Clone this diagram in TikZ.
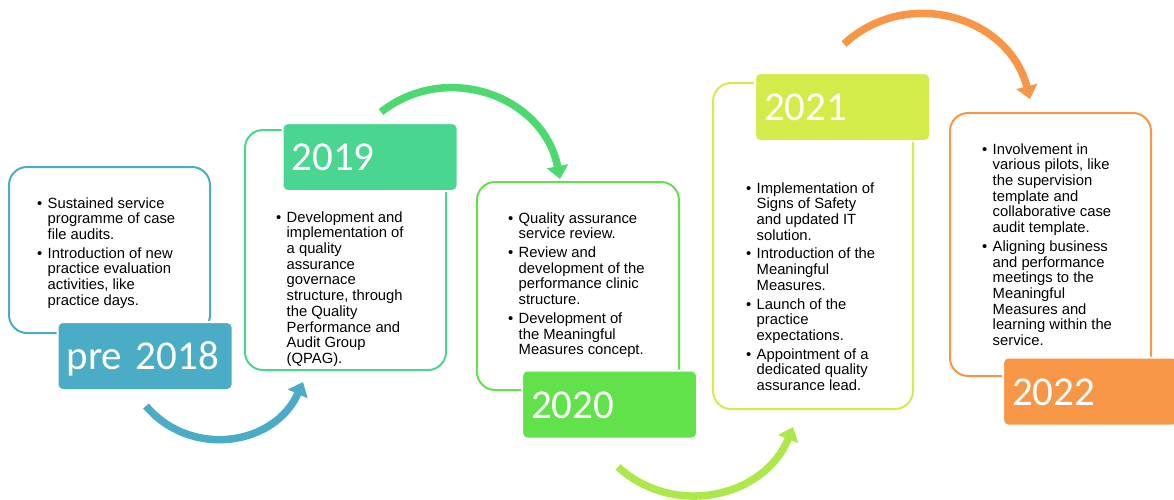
\documentclass[tikz,border=0pt]{standalone}
\usepackage{fontspec}
\setmainfont{Liberation Sans}
\newfontfamily\yearfont{Carlito}
\usetikzlibrary{arrows.meta}

\definecolor{blue18}{RGB}{75,172,198}
\definecolor{green19}{RGB}{74,214,145}
\definecolor{arrow19}{RGB}{76,217,112}
\definecolor{green20}{RGB}{98,226,74}
\definecolor{arrow20}{RGB}{172,232,74}
\definecolor{lime21}{RGB}{212,236,74}
\definecolor{orange22}{RGB}{247,150,70}

\newcommand{\bodysize}{\fontsize{14.8}{15.7}\selectfont}
\newcommand{\bulletmark}{\makebox[10.5pt][l]{\textbullet}}

\tikzset{
  panel/.style={draw=#1, line width=2pt, rounded corners=18pt},
  yearbox/.style={fill=#1, draw=white, line width=2pt, rounded corners=5pt,
    minimum height=68pt, inner xsep=9pt, inner ysep=0pt, text width=157pt,
    align=left, text height=27pt, text depth=0pt, text=white,
    font=\yearfont\fontsize{41}{41}\selectfont},
  points/.style={anchor=north west, inner sep=0pt, font=\bodysize},
  curl/.style={draw=#1, line width=7.5pt, -{Triangle[length=13pt,width=21pt]}}
}

\begin{document}
\begin{tikzpicture}[x=1pt, y=-1pt]
  \useasboundingbox (0,0) rectangle (1174,499);

  % panels
  \node[panel=blue18, minimum width=201pt, minimum height=166pt] (p18) at (109.5,250) {};
  \node[panel=green19, minimum width=201pt, minimum height=240pt] (p19) at (345.5,250) {};
  \node[panel=green20, minimum width=202pt, minimum height=208pt] (p20) at (578,286) {};
  \node[panel=lime21, minimum width=200pt, minimum height=326pt] (p21) at (813,246) {};
  \node[panel=orange22, minimum width=201pt, minimum height=263pt] (p22) at (1050.5,244.5) {};

  % year labels
  \node[yearbox=blue18] (y18) at (145,356) {pre 2018};
  \node[yearbox=green19] (y19) at (370,157) {2019};
  \node[yearbox=green20] (y20) at (609.5,404.5) {2020};
  \node[yearbox=lime21] (y21) at (842.5,107) {2021};
  \node[yearbox=orange22] (y22) at (1090.5,391.5) {2022};

  % bullet texts
  \node[points] (t18) at (37,197) {\begin{tabular}{@{}l@{}l@{}}
    \bulletmark & Sustained service\\
     & programme of case\\
     & file audits.\\[3pt]
    \bulletmark & Introduction of new\\
     & practice evaluation\\
     & activities, like\\
     & practice days.
  \end{tabular}};
  \node[points] (t19) at (276,211) {\begin{tabular}{@{}l@{}l@{}}
    \bulletmark & Development and\\
     & implementation of\\
     & a quality\\
     & assurance\\
     & governace\\
     & structure, through\\
     & the Quality\\
     & Performance and\\
     & Audit Group\\
     & (QPAG).
  \end{tabular}};
  \node[points] (t20) at (508,212) {\begin{tabular}{@{}l@{}l@{}}
    \bulletmark & Quality assurance\\
     & service review.\\[3pt]
    \bulletmark & Review and\\
     & development of the\\
     & performance clinic\\
     & structure.\\[3pt]
    \bulletmark & Development of\\
     & the Meaningful\\
     & Measures concept.
  \end{tabular}};
  \node[points] (t21) at (746,182) {\begin{tabular}{@{}l@{}l@{}}
    \bulletmark & Implementation of\\
     & Signs of Safety\\
     & and updated IT\\
     & solution.\\[3pt]
    \bulletmark & Introduction of the\\
     & Meaningful\\
     & Measures.\\[3pt]
    \bulletmark & Launch of the\\
     & practice\\
     & expectations.\\[3pt]
    \bulletmark & Appointment of a\\
     & dedicated quality\\
     & assurance lead.
  \end{tabular}};
  \node[points] (t22) at (982,143) {\begin{tabular}{@{}l@{}l@{}}
    \bulletmark & Involvement in\\
     & various pilots, like\\
     & the supervision\\
     & template and\\
     & collaborative case\\
     & audit template.\\[3pt]
    \bulletmark & Aligning business\\
     & and performance\\
     & meetings to the\\
     & Meaningful\\
     & Measures and\\
     & learning within the\\
     & service.
  \end{tabular}};

  % curved arrows
  \coordinate (a18s) at (146,406);
  \coordinate (a18e) at (303,382);
  \coordinate (a19s) at (381,112);
  \coordinate (a19e) at (560,179);
  \coordinate (a20s) at (618,467);
  \coordinate (a20e) at (793,427);
  \coordinate (a21s) at (844,44);
  \coordinate (a21e) at (1030,99);
  \draw[curl=blue18] (a18s) .. controls +(45.2,52.9) and +(-28.3,63.6) .. (a18e);
  \draw[curl=arrow19] (a19s) .. controls +(66.2,-51.7) and +(-16,-82.5) .. (a19e);
  \draw[curl=arrow20] (a20s) .. controls +(56.3,51.1) and +(-28.6,70.5) .. (a20e);
  \draw[curl=orange22] (a21s) .. controls +(62.8,-58.1) and +(-21.1,-82.8) .. (a21e);
\end{tikzpicture}
\end{document}
